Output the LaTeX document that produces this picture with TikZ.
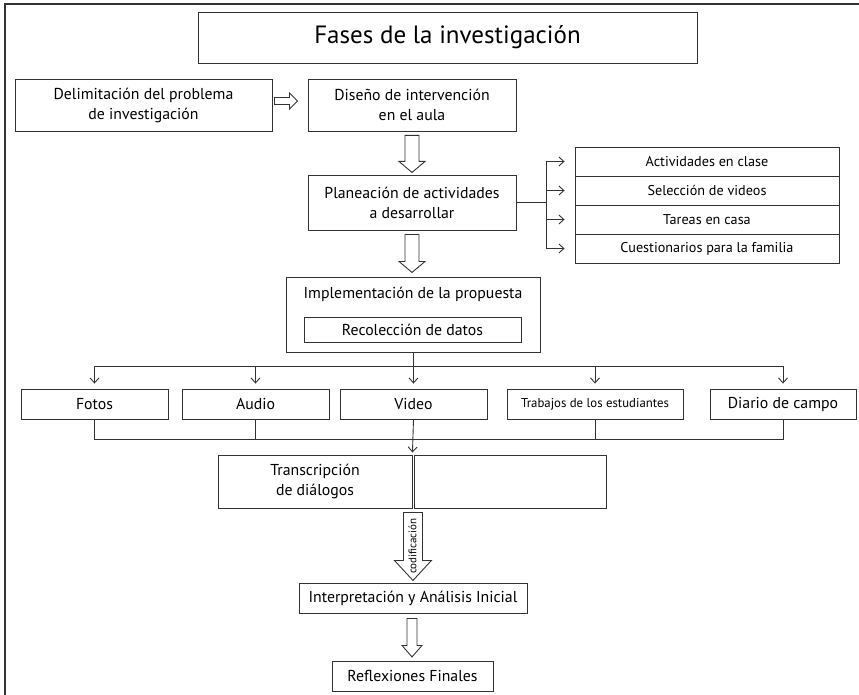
\documentclass[tikz,border=0pt]{standalone}
\usepackage{fontspec}
\setmainfont{PT Sans}
\usepackage{tikz}
\usetikzlibrary{arrows.meta, positioning, calc}

\definecolor{linegray}{gray}{0.2}

% hollow block arrows: start point, shaft length, head length, half shaft, half head
\newcommand{\hollowdown}[5]{%
  \draw[link] (#1) ++(-#4,0) -- ++(0,#2) -- ++({#4-#5},0) -- ++(#5,#3)
    -- ++(#5,-#3) -- ++({#4-#5},0) -- ++(0,-#2) -- cycle;}
\newcommand{\hollowright}[5]{%
  \draw[link] (#1) ++(0,-#4) -- ++(#2,0) -- ++(0,{#4-#5}) -- ++(#3,#5)
    -- ++(-#3,#5) -- ++(0,{#4-#5}) -- ++(-#2,0) -- cycle;}

\tikzset{
  link/.style={draw=linegray, line width=0.9pt},
  tip/.style={link, -{Straight Barb[length=5pt,width=9pt]}},
  box/.style={link, align=center, inner sep=0pt,
    font=\fontsize{15.8}{20}\selectfont},
  listbox/.style={box, minimum width=264, minimum height=29,
    font=\fontsize{14.2}{17}\selectfont},
  srcbox/.style={box, minimum height=30},
}

\begin{document}
\begin{tikzpicture}[x=1pt, y=-1pt]
    \useasboundingbox (0,0) rectangle (859,695);

    % Frame
    \draw[link, line width=1.3pt] (859,4) -- (5,4) -- (5,695);

    % Title
    \node[box, minimum width=499, minimum height=51, font=\fontsize{25}{30}\selectfont]
        (title) at (447.5,37.5) {Fases de la investigación};

    % First row
    \node[box, minimum width=257, minimum height=52] (delim) at (143.5,105)
        {Delimitación del problema\\de investigación};
    \node[box, minimum width=208, minimum height=52] (dis) at (412,105)
        {Diseño de intervención\\en el aula};
    \coordinate (r1) at ($(delim.east)+(2,-4)$);
    \hollowright{r1}{15}{8}{3.5}{8}

    % Planning
    \node[box, minimum width=208, minimum height=55] (plan) at (412,202.5)
        {Planeación de actividades\\a desarrollar};
    \coordinate (d1) at ($(dis.south)+(0,4)$);
    \hollowdown{d1}{26}{11}{7}{13}

    % Activities
    \node[listbox] (act) at (707,161.5) {Actividades en clase};
    \node[listbox] (sel) at (707,190.5) {Selección de videos};
    \node[listbox] (tar) at (707,219.5) {Tareas en casa};
    \node[listbox] (cues) at (707,248.5) {Cuestionarios para la familia};
    \coordinate (split) at ($(plan.east)+(30,0)$);
    \draw[link] (plan.east) -- (split);
    \draw[link] (split |- act.west) -- (split |- cues.west);
    \foreach \n in {act,sel,tar,cues}
        \draw[tip] (split |- \n.west) -- ([xshift=-10pt]\n.west);

    % Implementation
    \node[box, minimum width=254, minimum height=75] (impl) at (413,314.5) {};
    \node[font=\fontsize{15.8}{18}\selectfont] (impltxt) at (413,294)
        {Implementación de la propuesta};
    \node[box, minimum width=217, minimum height=25] (datos) at (412.5,330)
        {Recolección de datos};
    \coordinate (d2) at ($(plan.south)+(0,4)$);
    \hollowdown{d2}{27}{11}{7}{13}

    % Sources
    \node[srcbox, minimum width=147] (fotos) at (94.5,404) {Fotos};
    \node[srcbox, minimum width=147] (audio) at (255.5,404) {Audio};
    \node[srcbox, minimum width=147] (video) at (413.5,404) {Video};
    \node[srcbox, minimum width=176, font=\fontsize{12.8}{15}\selectfont]
        (trab) at (595,404) {Trabajos de los estudiantes};
    \node[srcbox, minimum width=146] (diario) at (783,404) {Diario de campo};

    \coordinate (bus) at ($(impl.south)+(0,14)$);
    \draw[link] (impl.south) -- (bus);
    \draw[link] (bus -| fotos.north) -- (bus -| diario.north);
    \foreach \n in {fotos,audio,video,trab,diario}
        \draw[tip] (bus -| \n.north) -- ([yshift=5pt]\n.north);

    % Transcription
    \node[box, minimum width=194, minimum height=53] (trans) at (315,481.5)
        {Transcripción\\de diálogos};
    \node[box, minimum width=192, minimum height=53] (transb) at (510,481.5) {};

    \coordinate (join) at ($(video.south)+(0,19.5)$);
    \draw[link] (fotos.south) |- (join);
    \draw[link] (diario.south) |- (join);
    \draw[link] (audio.south) -- (audio.south |- join);
    \draw[link] (trab.south) -- (trab.south |- join);
    \draw[tip] (video.south) -- ([yshift=2pt]trans.north east);

    % Analysis
    \node[box, minimum width=228, minimum height=30] (interp) at (413,598)
        {Interpretación y Análisis Inicial};
    \coordinate (d3) at ($(trans.south east)+(0.5,4)$);
    \hollowdown{d3}{48}{20}{9.5}{18.5}
    \node[rotate=90, font=\fontsize{11}{13}\selectfont] (cod) at (412.5,546) {codificación};

    % Final
    \node[box, minimum width=161, minimum height=30] (refl) at (412.5,676)
        {Reflexiones Finales};
    \coordinate (d4) at ($(interp.south)+(-1,5)$);
    \hollowdown{d4}{27}{11.5}{5}{10}
\end{tikzpicture}
\end{document}
